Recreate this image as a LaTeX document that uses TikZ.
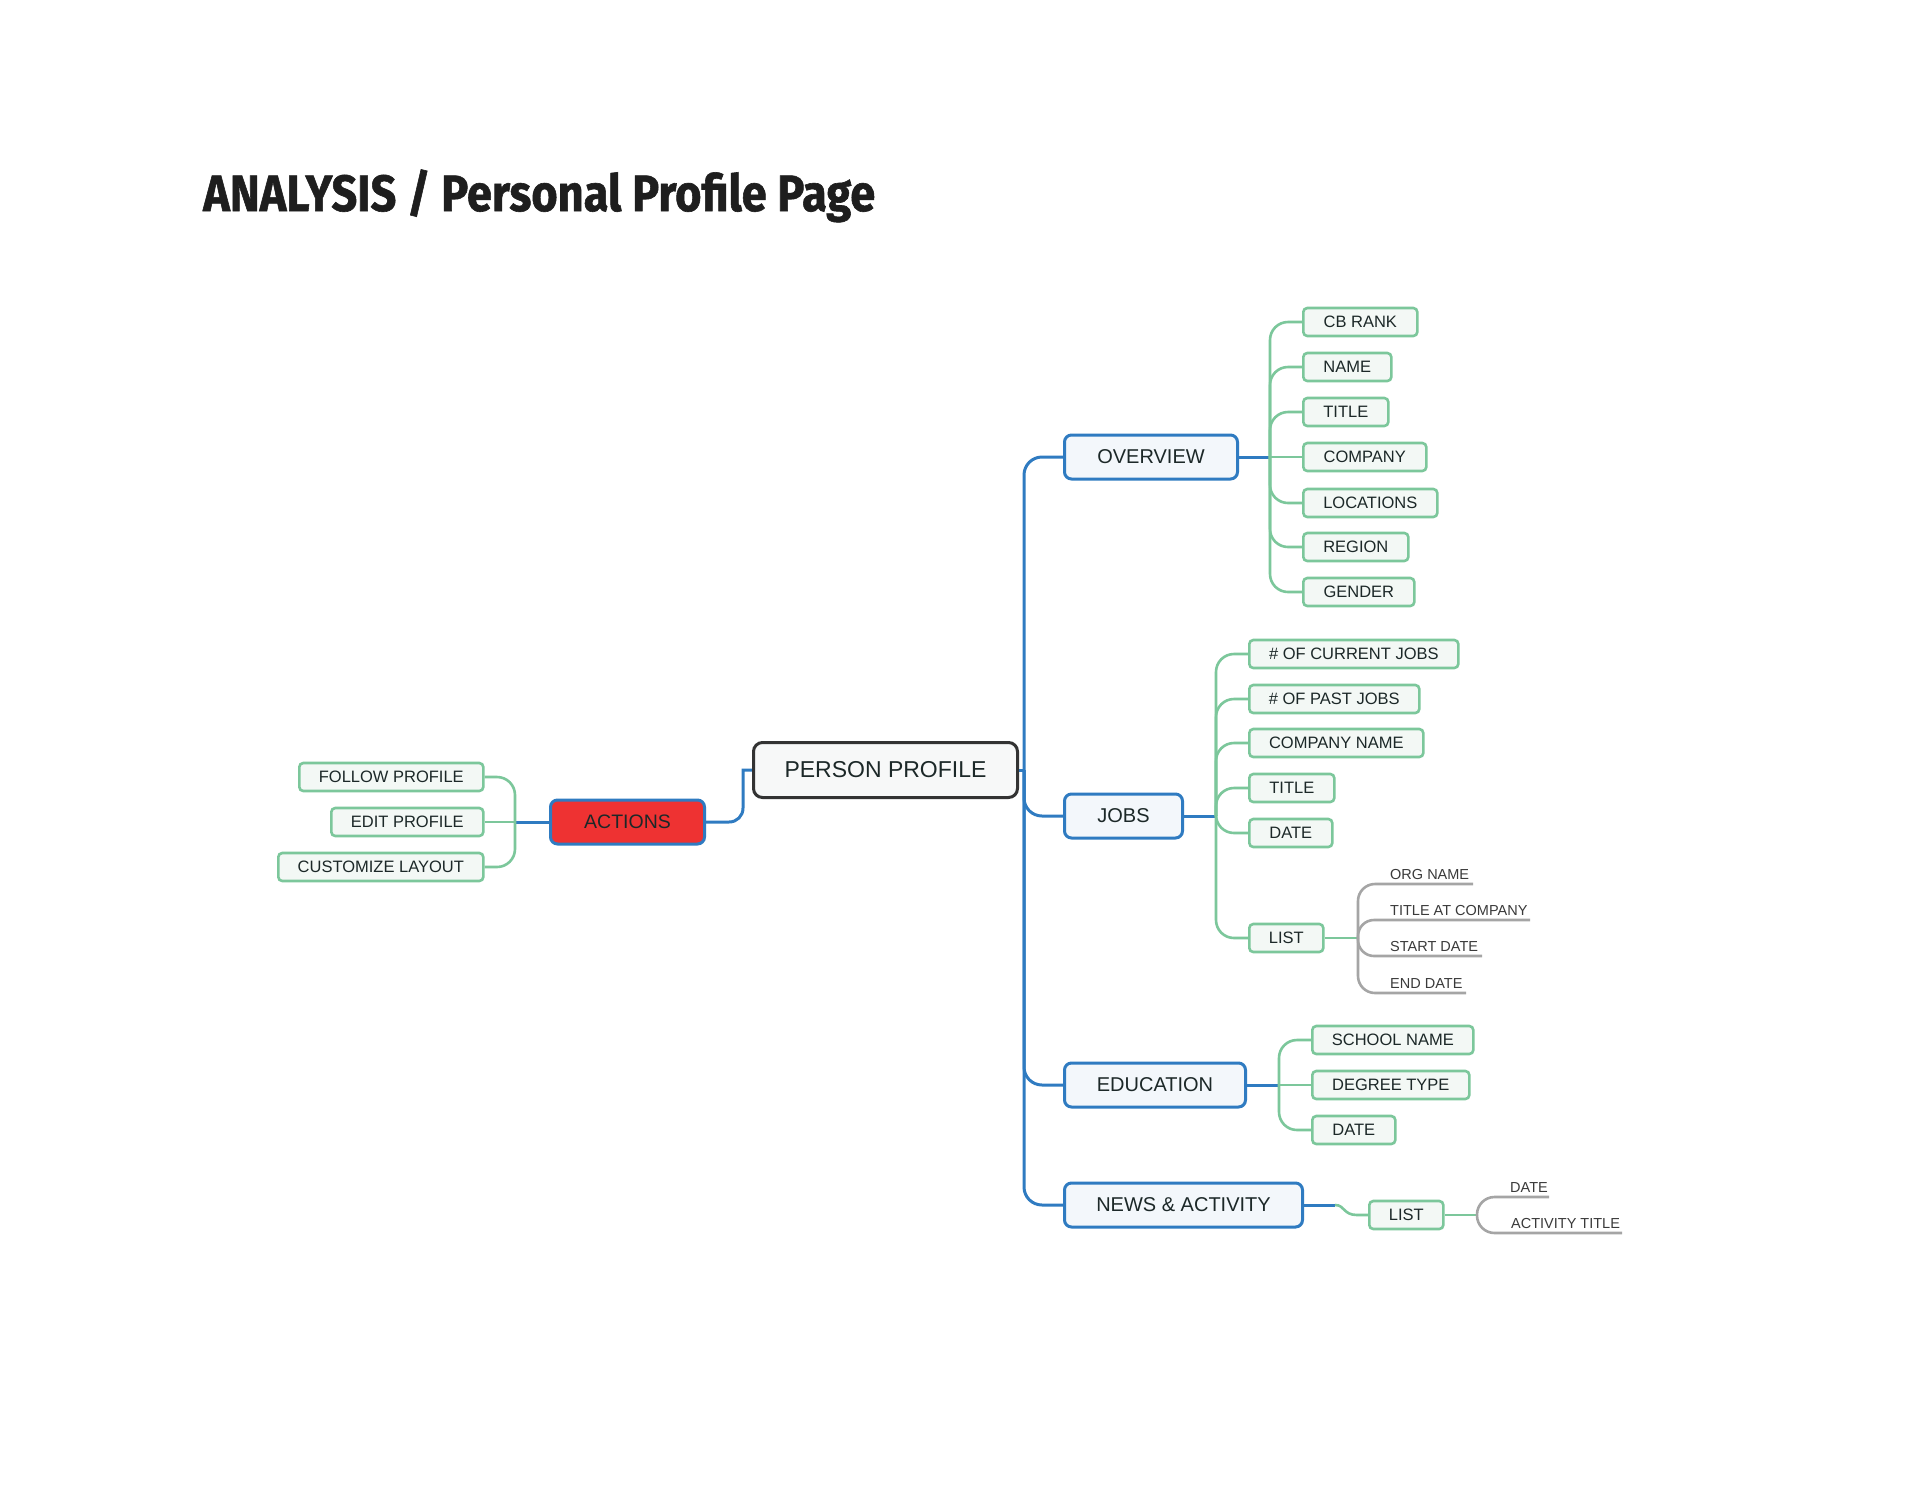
\documentclass[tikz,border=0pt]{standalone}
\usepackage{fontspec}
\usepackage{graphicx}
\setmainfont{Liberation Sans}
\newfontfamily\titlefont{Fira Sans}[BoldFeatures={FakeBold=1.2}]
\definecolor{cblue}{RGB}{47,123,193}
\definecolor{cgreen}{RGB}{124,199,155}
\definecolor{gfill}{RGB}{243,248,245}
\definecolor{bfill}{RGB}{243,247,251}
\definecolor{cred}{RGB}{238,50,50}
\definecolor{cdark}{RGB}{51,51,51}
\definecolor{ppfill}{RGB}{247,248,248}
\definecolor{cgray}{RGB}{165,165,165}
\definecolor{ctext}{RGB}{28,40,40}
\definecolor{cgtext}{RGB}{58,58,58}
\definecolor{ctitle}{RGB}{30,30,30}
\pgfdeclarelayer{back}
\pgfdeclarelayer{bg}
\pgfsetlayers{back,bg,main}
\begin{document}
\begin{tikzpicture}[x=1pt,y=-1pt,
  gbox/.style={draw=cgreen, fill=gfill, line width=2.6pt, rounded corners=4pt, minimum height=28pt, inner sep=0pt, anchor=west, font=\fontsize{16.5}{18}\selectfont, text=ctext},
  bbox/.style={draw=cblue, fill=bfill, line width=3pt, rounded corners=7pt, minimum height=44pt, inner sep=0pt, anchor=west, font=\fontsize{20}{22}\selectfont, text=ctext},
  glink/.style={draw=cgreen, line width=2.6pt, rounded corners=18pt},
  blink/.style={draw=cblue, line width=3pt},
  graylink/.style={draw=cgray, line width=2.6pt, rounded corners=17pt},
  itemtext/.style={anchor=base west, inner sep=0pt, font=\fontsize{14.5}{16}\selectfont, text=cgtext}
]
\begin{pgfonlayer}{back}
\fill[white] (0,0) rectangle (1920,1484);
\end{pgfonlayer}
\useasboundingbox (0,0) rectangle (1920,1484);

% title
\node[anchor=base west, inner sep=0pt, text=ctitle] (title) at (203,211)
  {\resizebox{672pt}{\height}{\titlefont\bfseries\fontsize{51}{56}\selectfont ANALYSIS / Personal Profile Page}};

% central
\node[draw=cdark, fill=ppfill, line width=3pt, rounded corners=9pt, minimum height=55pt, minimum width=264pt, inner sep=0pt, anchor=west, font=\fontsize{23}{25}\selectfont, text=ctext] (pp) at (752,770) {PERSON PROFILE};

% main branches
\node[bbox, minimum width=173pt] (ov) at (1063,457) {OVERVIEW};
\node[bbox, minimum width=118pt] (jobs) at (1063,816) {JOBS};
\node[bbox, minimum width=181pt] (edu) at (1063,1085) {EDUCATION};
\node[bbox, minimum width=238pt] (news) at (1063,1205) {NEWS \& ACTIVITY};
\node[bbox, fill=cred, minimum width=154pt, font=\fontsize{19.5}{21}\selectfont] (act) at (549,822) {ACTIONS};

% overview children
\node[gbox, minimum width=114pt] (cb) at (1302,322) {CB RANK};
\node[gbox, minimum width=88pt] (name) at (1302,367) {NAME};
\node[gbox, minimum width=85pt] (otitle) at (1302,412) {TITLE};
\node[gbox, minimum width=123pt] (comp) at (1302,457) {COMPANY};
\node[gbox, minimum width=134pt] (loc) at (1302,503) {LOCATIONS};
\node[gbox, minimum width=105pt] (reg) at (1302,547) {REGION};
\node[gbox, minimum width=111pt] (gen) at (1302,592) {GENDER};

% jobs children
\node[gbox, minimum width=209pt] (cur) at (1248,654) {\# OF CURRENT JOBS};
\node[gbox, minimum width=170pt] (past) at (1248,699) {\# OF PAST JOBS};
\node[gbox, minimum width=174pt] (cname) at (1248,743) {COMPANY NAME};
\node[gbox, minimum width=85pt] (jtitle) at (1248,788) {TITLE};
\node[gbox, minimum width=83pt] (jdate) at (1248,833) {DATE};
\node[gbox, minimum width=74pt] (jlist) at (1248,938) {LIST};

% education children
\node[gbox, minimum width=161pt] (school) at (1311,1040) {SCHOOL NAME};
\node[gbox, minimum width=157pt] (degree) at (1311,1085) {DEGREE TYPE};
\node[gbox, minimum width=83pt] (edate) at (1311,1130) {DATE};

% news child
\node[gbox, minimum width=74pt] (nlist) at (1368,1215) {LIST};

% actions children
\node[gbox, minimum width=184pt] (fp) at (298,777) {FOLLOW PROFILE};
\node[gbox, minimum width=152pt] (ep) at (330,822) {EDIT PROFILE};
\node[gbox, minimum width=205pt] (cl) at (277,867) {CUSTOMIZE LAYOUT};

% list items
\node[itemtext] (org) at (1390,879) {ORG NAME};
\node[itemtext] (tac) at (1390,915) {TITLE AT COMPANY};
\node[itemtext] (sd) at (1390,951) {START DATE};
\node[itemtext] (ed) at (1390,988) {END DATE};
\node[itemtext] (ndate) at (1510,1192) {DATE};
\node[itemtext] (ntitle) at (1511,1228) {ACTIVITY TITLE};

\coordinate (tr) at (1024,770);
\coordinate (ovb) at (1270,457);
\coordinate (jb) at (1216,816);
\coordinate (eb) at (1279,1085);
\coordinate (nb) at (1335,1205);
\coordinate (ab) at (515,822);
\coordinate (jlb) at (1358,938);
\coordinate (nlb) at (1477,1215);
\coordinate (u1) at (1473,884);
\coordinate (u2) at (1530,920);
\coordinate (u3) at (1482,956);
\coordinate (u4) at (1466,993);
\coordinate (u5) at (1549,1197);
\coordinate (u6) at (1622,1233);
\coordinate (ak) at (743,770);

\begin{pgfonlayer}{bg}
% blue trunk
\draw[blink] (pp.east) -- (tr);
\draw[blink, rounded corners=18pt] (tr) |- (ov.west);
\draw[blink, rounded corners=18pt] (tr) |- (jobs.west);
\draw[blink, rounded corners=18pt] (tr) |- (edu.west);
\draw[blink, rounded corners=18pt] (tr) |- (news.west);
\draw[blink] (ov.east) -- (ovb);
\draw[blink] (jobs.east) -- (jb);
\draw[blink] (edu.east) -- (eb);
\draw[blink] (news.east) -- (nb);
\draw[blink] (ab) -- (act.west);
\draw[blink] (act.east) -- (729,822) .. controls (737,822) and (743,816) .. (743,808) -- (ak) -- (pp.west);

% overview
\draw[glink] (ovb) |- (cb.west);
\draw[glink] (ovb) |- (name.west);
\draw[glink] (ovb) |- (otitle.west);
\draw[glink] (ovb) -- (comp.west);
\draw[glink] (ovb) |- (loc.west);
\draw[glink] (ovb) |- (reg.west);
\draw[glink] (ovb) |- (gen.west);

% jobs
\draw[glink] (jb) |- (cur.west);
\draw[glink] (jb) |- (past.west);
\draw[glink] (jb) |- (cname.west);
\draw[glink] (jb) |- (jtitle.west);
\draw[glink] (jb) |- (jdate.west);
\draw[glink] (jb) |- (jlist.west);
\draw[glink] (jlist.east) -- (jlb);

% education
\draw[glink] (eb) |- (school.west);
\draw[glink] (eb) -- (degree.west);
\draw[glink] (eb) |- (edate.west);

% news
\draw[draw=cgreen, line width=2.6pt] (nb) .. controls (1345,1205) and (1343,1215) .. (1357,1215) -- (nlist.west);
\draw[glink] (nlist.east) -- (nlb);

% actions
\draw[glink] (fp.east) -| (ab);
\draw[glink] (ep.east) -- (ab);
\draw[glink] (cl.east) -| (ab);

% gray
\draw[graylink] (jlb) |- (u1);
\draw[graylink, rounded corners=16pt] (jlb) |- (u2);
\draw[graylink, rounded corners=16pt] (jlb) |- (u3);
\draw[graylink] (jlb) |- (u4);
\draw[graylink, rounded corners=17.5pt] (nlb) |- (u5);
\draw[graylink, rounded corners=17.5pt] (nlb) |- (u6);
\end{pgfonlayer}
\end{tikzpicture}
\end{document}
